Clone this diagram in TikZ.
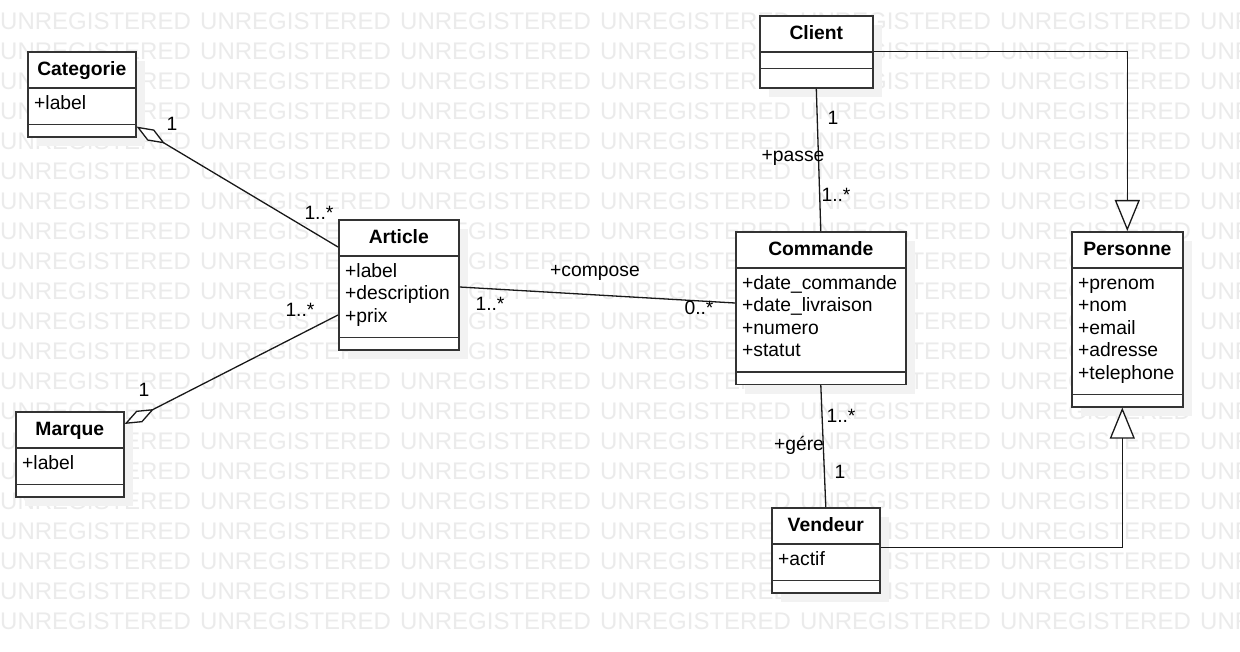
\documentclass[tikz,border=0pt]{standalone}
\usepackage{fontspec}
\setmainfont{Liberation Sans}
\usetikzlibrary{arrows.meta,positioning}

% class box: name, north west corner, width, attribute part, operation part, title, attributes
\newcommand{\umlclass}[7]{%
  \fill[classshadow] ([shift={(10,10)}]#2) rectangle ++(#3,37+#4+#5);
  \node[classbox, minimum width=#3, minimum height=37+#4+#5, anchor=north west] (#1) at (#2) {};
  \node[classtitle, anchor=base] (#1-title) at ([yshift=-24.5pt]#1.north) {#6};
  \draw[classsep] ([yshift=-37pt]#1.north west) -- ([yshift=-37pt]#1.north east);
  \draw[classsep] ([yshift=#5pt]#1.south west) -- ([yshift=#5pt]#1.south east);
  \node[classattr, anchor=base west] (#1-attr) at ([xshift=7pt, yshift=-58.5pt]#1.north west)
    {\begin{tabular}[t]{@{}l@{}}#7\end{tabular}};
}

\begin{document}
\begin{tikzpicture}[
  x=1pt, y=-1pt,
  classbox/.style={draw=black!80, line width=1.6pt, fill=white, inner sep=0pt},
  classshadow/.style={fill=black!5},
  classsep/.style={draw=black!80, line width=1.6pt},
  classtitle/.style={font=\fontsize{19.3}{22.5}\selectfont\bfseries, inner sep=0pt},
  classattr/.style={font=\fontsize{19.3}{22.5}\selectfont, inner sep=0pt},
  mult/.style={font=\fontsize{19.3}{22.5}\selectfont, inner sep=0pt, anchor=base},
  assoc/.style={draw=black!90, line width=1.3pt},
  aggreg/.style={assoc, -{Diamond[open, fill=white, length=33pt, width=13pt]}},
  inherit/.style={assoc, -{Triangle[open, fill=white, length=31pt, width=25pt]}},
  watermark/.style={font=\fontsize{24}{24}\selectfont, text=black!8, inner sep=0pt, anchor=base west}
]

\useasboundingbox (0,0) rectangle (1240,652);
\fill[white] (0,0) rectangle (1240,652);

% Background watermark
\begin{scope}
  \clip (0,0) rectangle (1240,652);
  \foreach \r in {0,...,20}
    \foreach \c in {0,...,6}
      \node[watermark] at (200*\c, 29.3+30*\r) {UNREGISTERED};
\end{scope}

% Classes
\umlclass{categorie}{27,51}{108}{35}{13}{Categorie}{+label}
\umlclass{article}{338,219}{120}{80}{13}{Article}{+label\\+description\\+prix}
\umlclass{marque}{15,411}{108}{35}{13}{Marque}{+label}
\umlclass{client}{759,15}{113}{15}{20}{Client}{}
\umlclass{commande}{735,231}{170}{102.5}{13}{Commande}{+date\_commande\\+date\_livraison\\+numero\\+statut}
\umlclass{personne}{1071,231}{111}{125}{13}{Personne}{+prenom\\+nom\\+email\\+adresse\\+telephone}
\umlclass{vendeur}{771,507}{108}{35}{13}{Vendeur}{+actif}

% Aggregations
\draw[aggreg] ([yshift=-28pt]article.north west) -- ([yshift=11pt]categorie.south east);
\draw[aggreg] ([yshift=-96pt]article.north west) -- ([yshift=-13pt]marque.north east);

% Associations
\draw[assoc] ([yshift=-68pt]article.north east) -- ([yshift=-72pt]commande.north west);
\draw[assoc] (client.south) -- (commande.north);
\draw[assoc] (commande.south) -- (vendeur.north);

% Generalizations
\draw[inherit] (client.east) -| (personne.north);
\draw[inherit] ([yshift=2.5pt]vendeur.east) -| ([xshift=-5pt]personne.south);

% Multiplicities and roles
\node[mult] (m-cat)    at (172,131)   {1};
\node[mult] (m-artcat) at (319,220)   {1..*};
\node[mult] (m-mar)    at (144,396.7) {1};
\node[mult] (m-artmar) at (300,316.7) {1..*};
\node[mult] (r-comp)   at (595,277)   {+compose};
\node[mult] (m-artcom) at (490,311)   {1..*};
\node[mult] (m-comart) at (699,315)   {0..*};
\node[mult] (m-cli)    at (833,125)   {1};
\node[mult] (r-passe)  at (793,162)   {+passe};
\node[mult] (m-comcli) at (836,202)   {1..*};
\node[mult] (m-comven) at (841,422)   {1..*};
\node[mult] (r-gere)   at (799,450)   {+gére};
\node[mult] (m-ven)    at (840,478)   {1};

\end{tikzpicture}
\end{document}
